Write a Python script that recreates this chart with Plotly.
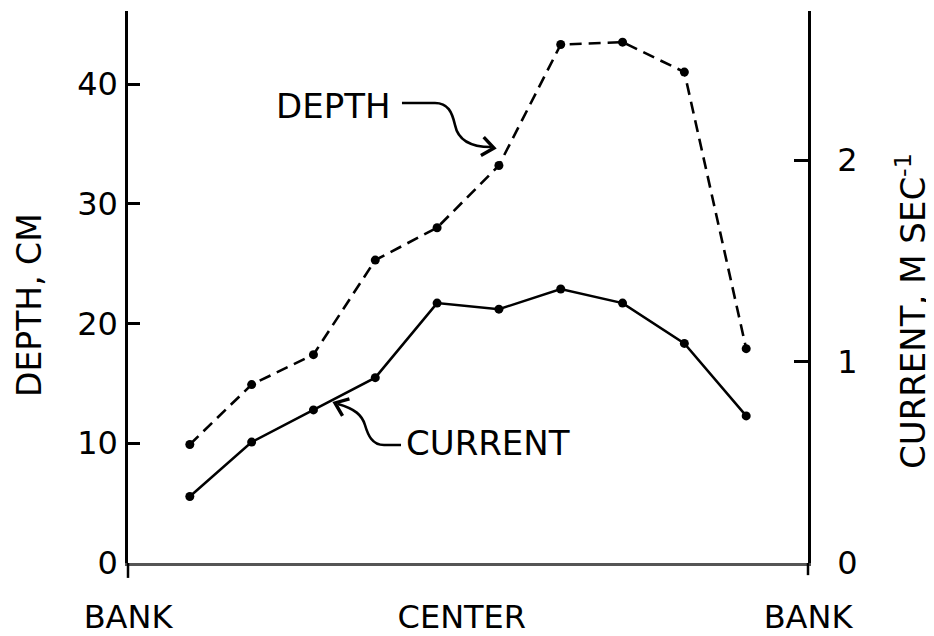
import math
import plotly.graph_objects as go

# ---- data ----
positions = [1, 2, 3, 4, 5, 6, 7, 8, 9, 10]
depth_cm = [9.9, 14.9, 17.4, 25.3, 28.0, 33.2, 43.3, 43.5, 41.0, 17.9]
current_ms = [0.33, 0.60, 0.76, 0.92, 1.29, 1.26, 1.36, 1.29, 1.09, 0.73]
x_tick_vals = [0, 5.4, 11]
x_tick_text = ["BANK", "CENTER", "BANK"]
depth_ticks = [0, 10, 20, 30, 40]
current_ticks = [0, 1, 2]
depth_title = "DEPTH, CM"
current_title = "CURRENT, M SEC<sup>-1</sup>"

W, H = 934, 636
OFF = 8  # page body margin of the browser
# plot area in window pixels
X0, X1, Y0, Y1 = 128, 808, 11, 563
ML = X0 - OFF
MR = W - (X1 - OFF)
MT = Y0 - OFF
MB = H - (Y1 - OFF)
FONT = "DejaVu Sans"


def px(x, y):
    """window pixel -> paper coords (decorative annotation items only)"""
    return (x - X0) / (X1 - X0), (Y1 - y) / (Y1 - Y0)


def path(cmds):
    out = []
    for c in cmds:
        if isinstance(c, str):
            out.append(c)
        else:
            a, b = px(*c)
            out.append(f"{a:.4f},{b:.4f}")
    return " ".join(out)


def chevron(tip, dx, dy, length=15, ang=38):
    n = math.hypot(dx, dy)
    ux, uy = dx / n, dy / n
    pts = []
    for s in (1, -1):
        a = math.radians(180 + s * ang)
        rx = ux * math.cos(a) - uy * math.sin(a)
        ry = ux * math.sin(a) + uy * math.cos(a)
        pts.append((tip[0] + rx * length, tip[1] + ry * length))
    return path(["M", pts[0], "L", tip, "L", pts[1]])


fig = go.Figure()
fig.add_trace(go.Scatter(
    x=positions, y=depth_cm, mode="lines+markers", name="DEPTH",
    line=dict(color="black", width=2.6, dash="12px,7px"),
    marker=dict(color="black", size=9), yaxis="y"))
fig.add_trace(go.Scatter(
    x=positions, y=current_ms, mode="lines+markers", name="CURRENT",
    line=dict(color="black", width=2.5),
    marker=dict(color="black", size=9), yaxis="y2"))

depth_arrow = path(["M", (402, 103), "L", (435, 103), "C", (448, 103), (452, 112), (455, 125),
                    "C", (458, 140), (470, 147), (491, 147)])
current_arrow = path(["M", (401, 445), "L", (384, 445), "C", (372, 445), (368, 435), (365, 425),
                      "C", (362, 415), (355, 409), (338, 404)])

arrow_line = dict(color="black", width=2.6)
shapes = [
    dict(type="path", xref="paper", yref="paper", path=depth_arrow, line=arrow_line),
    dict(type="path", xref="paper", yref="paper", path=current_arrow, line=arrow_line),
    dict(type="path", xref="paper", yref="paper", path=chevron((494, 148), 1, 0.15),
         line=dict(color="black", width=3.4)),
    dict(type="path", xref="paper", yref="paper", path=chevron((335, 403), -1, -0.4),
         line=dict(color="black", width=3.4)),
    # small extensions of the vertical axes below the baseline
    dict(type="line", xref="paper", yref="paper", x0=0, x1=0, y0=0, y1=-0.027,
         line=dict(color="black", width=2.5)),
    dict(type="line", xref="paper", yref="paper", x0=1, x1=1, y0=0, y1=-0.022,
         line=dict(color="black", width=2.5)),
]

dpos = px(333, 106)
cpos = px(488, 443)
ltpos = px(30, 305)
rtpos = px(911, 311)
annotations = [
    dict(x=dpos[0], y=dpos[1], xref="paper", yref="paper", text="DEPTH", showarrow=False,
         xanchor="center", yanchor="middle",
         font=dict(family=FONT, size=34, color="black")),
    dict(x=cpos[0], y=cpos[1], xref="paper", yref="paper", text="CURRENT", showarrow=False,
         xanchor="center", yanchor="middle",
         font=dict(family=FONT, size=34, color="black")),
    dict(x=ltpos[0], y=ltpos[1], xref="paper", yref="paper", text=depth_title,
         showarrow=False, textangle=-90, xanchor="center", yanchor="middle",
         font=dict(family=FONT, size=33, color="black")),
    dict(x=rtpos[0], y=rtpos[1], xref="paper", yref="paper", text=current_title,
         showarrow=False, textangle=-90, xanchor="center", yanchor="middle",
         font=dict(family=FONT, size=34, color="black")),
]

fig.update_layout(
    width=W, height=H,
    margin=dict(l=ML, r=MR, t=MT, b=MB, autoexpand=False),
    paper_bgcolor="white", plot_bgcolor="white",
    showlegend=False,
    font=dict(family=FONT, color="black"),
    xaxis=dict(range=[0, 11], showline=True, linewidth=3, linecolor="#555",
               showgrid=False, zeroline=False, ticks="",
               tickvals=x_tick_vals, ticktext=x_tick_text,
               tickfont=dict(family=FONT, size=32, color="black"),
               ticklabelstandoff=24),
    yaxis=dict(range=[0, 46.1], showline=True, linewidth=2.5, linecolor="black",
               showgrid=False, zeroline=False, ticks="inside", ticklen=12, tickwidth=2.5,
               tickcolor="black", tickvals=depth_ticks,
               tickfont=dict(family=FONT, size=32, color="black"),
               ticklabelstandoff=1),
    yaxis2=dict(range=[0, 2.74], overlaying="y", side="right", showline=True,
                linewidth=2.5, linecolor="black", showgrid=False, zeroline=False,
                ticks="inside", ticklen=14, tickwidth=2.5, tickcolor="black",
                tickvals=current_ticks,
                tickfont=dict(family=FONT, size=32, color="black"),
                ticklabelstandoff=20),
    shapes=shapes,
    annotations=annotations,
)

fig.write_html("out.html")
